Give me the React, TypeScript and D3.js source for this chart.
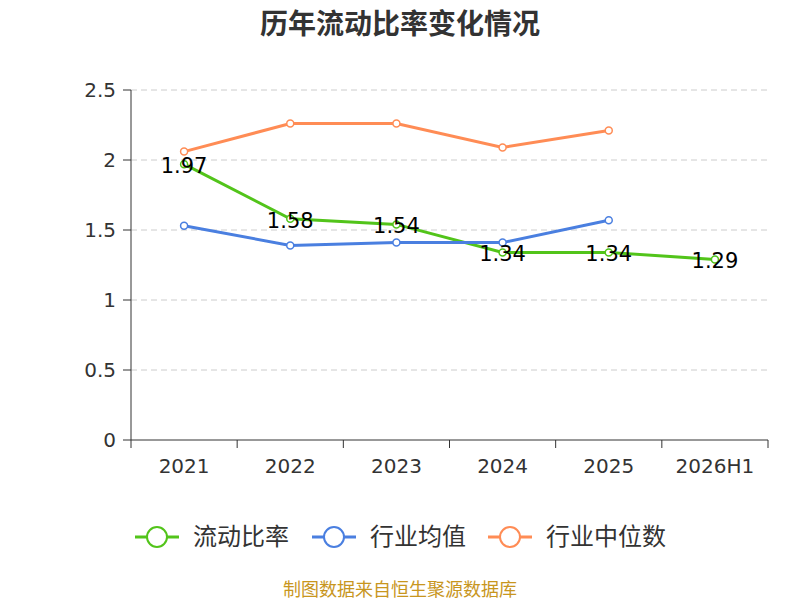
import React from "react";
import * as d3 from "d3";

const categories = ["2021", "2022", "2023", "2024", "2025", "2026H1"];
const ratio = [1.97, 1.58, 1.54, 1.34, 1.34, 1.29];
const industryMean = [1.53, 1.39, 1.41, 1.41, 1.57];
const industryMedian = [2.06, 2.26, 2.26, 2.09, 2.21];
const yTicks = [0, 0.5, 1, 1.5, 2, 2.5];

const series = [
  { name: "流动比率", values: ratio, color: "#52c41a" },
  { name: "行业均值", values: industryMean, color: "#4a7fe0" },
  { name: "行业中位数", values: industryMedian, color: "#ff8c55" },
];

export default function App() {
  const x = d3.scaleBand().domain(categories).range([131, 768]);
  const y = d3.scaleLinear().domain([0, 2.5]).range([440, 90]);
  const cx = (i: number) => (x(categories[i]) as number) + x.bandwidth() / 2;
  const line = d3.line<number>().x((_, i) => cx(i)).y((v) => y(v));
  const font = "'Noto Sans CJK SC', 'Noto Sans', sans-serif";
  const num = "'DejaVu Sans', sans-serif";
  const legendX = [135, 312, 488];
  return (
    <svg width={800} height={600} style={{ position: "absolute", left: 0, top: 0, fontFamily: font }}>
      <text x={400} y={34} textAnchor="middle" fontSize={28} fontWeight="bold" fill="#333">历年流动比率变化情况</text>
      {yTicks.map((t) => (
        <g key={t}>
          {t > 0 && <line x1={131} x2={768} y1={y(t)} y2={y(t)} stroke="#ccc" strokeDasharray="6,4" />}
          <line x1={123} x2={131} y1={y(t)} y2={y(t)} stroke="#333" />
          <text x={116} y={y(t) + 7} textAnchor="end" fontSize={20} fontFamily={num} fill="#333">{t}</text>
        </g>
      ))}
      <line x1={131} x2={131} y1={90} y2={440} stroke="#333" />
      <line x1={131} x2={768} y1={440} y2={440} stroke="#333" />
      {categories.map((c, i) => (
        <g key={c}>
          <line x1={x(c)} x2={x(c)} y1={440} y2={448} stroke="#333" />
          <text x={cx(i)} y={473} textAnchor="middle" fontSize={20} fontFamily={num} fill="#333">{c}</text>
        </g>
      ))}
      <line x1={768} x2={768} y1={440} y2={448} stroke="#333" />
      {series.map((s) => (
        <g key={s.name}>
          <path d={line(s.values) || ""} fill="none" stroke={s.color} strokeWidth={3} />
          {s.values.map((v, i) => (
            <circle key={i} cx={cx(i)} cy={y(v)} r={3.5} fill="#fff" stroke={s.color} strokeWidth={1.5} />
          ))}
        </g>
      ))}
      {ratio.map((v, i) => (
        <text key={i} x={cx(i)} y={y(v) + 9} textAnchor="middle" fontSize={21} fontFamily={num} fill="#000">{v.toFixed(2)}</text>
      ))}
      {series.map((s, k) => (
        <g key={s.name}>
          <line x1={legendX[k]} x2={legendX[k] + 44} y1={537} y2={537} stroke={s.color} strokeWidth={3} />
          <circle cx={legendX[k] + 22} cy={537} r={10} fill="#fff" stroke={s.color} strokeWidth={2} />
          <text x={legendX[k] + 58} y={545} fontSize={24} fill="#333">{s.name}</text>
        </g>
      ))}
      <text x={400} y={596} textAnchor="middle" fontSize={18} fill="#c8961e">制图数据来自恒生聚源数据库</text>
    </svg>
  );
}
